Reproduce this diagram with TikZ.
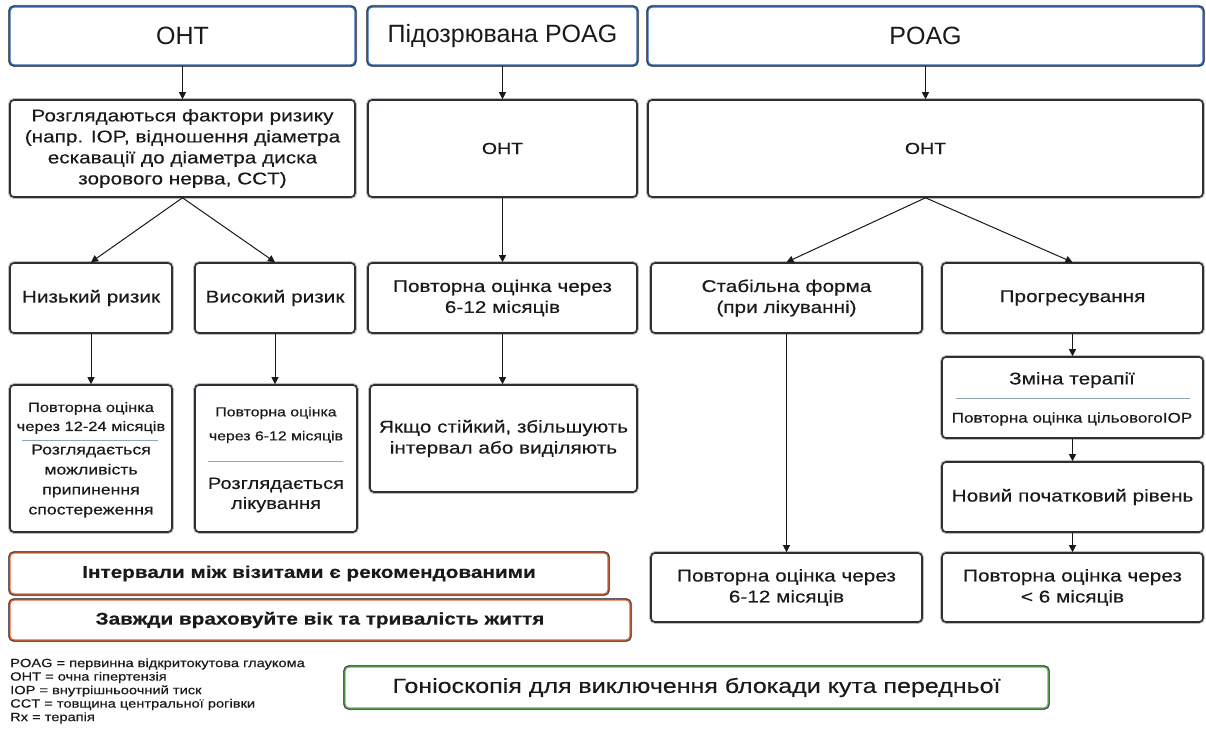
\documentclass[tikz,border=0pt]{standalone}
\usepackage{fontspec}
\setmainfont{Liberation Sans}[FakeStretch=1.22,FakeBold=0.35]
\newfontfamily\topfont{Liberation Sans}
\usetikzlibrary{arrows.meta}
\definecolor{boxline}{HTML}{2A3036}
\definecolor{topblue}{HTML}{2E6DB8}
\definecolor{orangeline}{HTML}{EC6430}
\definecolor{greenline}{HTML}{62C04A}
\definecolor{divline}{HTML}{8FA6B6}
\definecolor{txt}{HTML}{1A1A1A}
\newcommand\fs[2]{\fontsize{#1}{#2}\selectfont}
\newcommand\mybox[7]{\node[#1, minimum width={#5-#3}, minimum height={#6-#4}] (#2) at ({(#3+#5)/2},{(#4+#6)/2}) {#7};}
\tikzset{
  base/.style={rounded corners=4pt, fill=white, inner sep=0pt, align=center, text=txt},
  box/.style={base, preaction={draw=black!25, line width=3.8pt}, draw=boxline, line width=1.6pt, font=\fs{17}{21}},
  colbox/.style={base, preaction={draw=black!25, line width=4pt}, preaction={draw=boxline, line width=3.2pt}, line width=1.4pt},
  topbox/.style={colbox, draw=topblue, font=\topfont\fs{25}{28}},
  orbox/.style={colbox, draw=orangeline, font=\bfseries\fs{17}{20}},
  grbox/.style={colbox, draw=greenline, font=\fs{20.5}{22}},
  arr/.style={draw=black!90, line width=1pt, -{Triangle[length=7pt,width=7pt]}},
  div/.style={draw=divline, line width=0.7pt},
  tnode/.style={inner sep=0pt, align=center, text=txt},
  legend/.style={inner sep=0pt, anchor=west, text=txt, font=\fs{12}{13.5}}
}
\begin{document}
\begin{tikzpicture}[x=1pt,y=-1pt]
\useasboundingbox[fill=white] (0,0) rectangle (1206,751);
% top row
\mybox{topbox}{t1}{10}{7}{355}{65}{OHT}
\mybox{topbox}{t2}{368}{7}{637}{65}{Підозрювана POAG}
\mybox{topbox}{t3}{648}{7}{1203}{65}{POAG}
% row 2
\mybox{box}{r1}{10}{100}{355}{197}{Розглядаються фактори ризику\\(напр. IOP, відношення діаметра\\ескавації до діаметра диска\\зорового нерва, CCT)}
\mybox{box,font=\fs{16}{18}}{r2}{368}{100}{637}{197}{OHT}
\mybox{box,font=\fs{16}{18}}{r3}{648}{100}{1203}{197}{OHT}
% row 3
\mybox{box}{lo}{10}{263}{172}{333}{Низький ризик}
\mybox{box}{hi}{195}{263}{355}{333}{Високий ризик}
\mybox{box}{b3}{368}{263}{637}{333}{Повторна оцінка через\\6-12 місяців}
\mybox{box}{st}{651}{263}{922}{333}{Стабільна форма\\(при лікуванні)}
\mybox{box}{pr}{942}{263}{1203}{333}{Прогресування}
% row 4
\mybox{box}{a4a}{10}{385}{172}{532}{}
\mybox{box}{a4b}{195}{385}{357}{532}{}
\mybox{box}{b4}{370}{385}{637}{492}{Якщо стійкий, збільшують\\інтервал або виділяють}
\mybox{box}{ch}{942}{357}{1203}{438}{}
\mybox{box}{nb}{942}{462}{1203}{532}{Новий початковий рівень}
% row 5
\mybox{box}{s5}{651}{553}{922}{622}{Повторна оцінка через\\6-12 місяців}
\mybox{box}{p5}{942}{553}{1203}{622}{Повторна оцінка через\\< 6 місяців}
% inner texts
\node[tnode, font=\fs{13.5}{19}] (a4a1) at (91,418) {Повторна оцінка\\через 12-24 місяців};
\draw[div] (22,440) -- (158,440);
\node[tnode, font=\fs{14.5}{20}] (a4a2) at (91,481) {Розглядається\\можливість\\припинення\\спостереження};
\node[tnode, font=\fs{13}{24}] (a4b1) at (276,425) {Повторна оцінка\\через 6-12 місяців};
\draw[div] (208,461) -- (343,461);
\node[tnode, font=\fs{16.5}{20}] (a4b2) at (276,495) {Розглядається\\лікування};
\node[tnode, font=\fs{17}{21}] (ch1) at (1072,380) {Зміна терапії};
\draw[div] (956,398) -- (1190,398);
\node[tnode, font=\fs{14}{17}] (ch2) at (1072,419) {Повторна оцінка цільовогоIOP};
% arrows
\draw[arr] (t1) -- (r1);
\draw[arr] (t2) -- (r2);
\draw[arr] (t3.south) -- (r3.north);
\draw[arr] (r1.south) -- (lo.north);
\draw[arr] (r1.south) -- (hi.north);
\draw[arr] (r2) -- (b3);
\draw[arr] (r3.south) -- (st.north);
\draw[arr] (r3.south) -- (pr.north);
\draw[arr] (lo) -- (lo.south |- a4a.north);
\draw[arr] (hi) -- (hi.south |- a4b.north);
\draw[arr] (b3.south) -- (b3.south |- b4.north);
\draw[arr] (st) -- (s5);
\draw[arr] (pr) -- (ch);
\draw[arr] (ch) -- (nb);
\draw[arr] (nb) -- (p5);
% notes
\mybox{orbox}{o1}{10}{553}{608}{594}{Інтервали між візитами є рекомендованими}
\mybox{orbox}{o2}{10}{600}{630}{640}{Завжди враховуйте вік та тривалість життя}
\mybox{grbox}{g}{345}{667}{1048}{708}{Гоніоскопія для виключення блокади кута передньої}
% legend
\node[legend] (l1) at (10,664) {POAG = первинна відкритокутова глаукома};
\node[legend] (l2) at (10,677.5) {OHT = очна гіпертензія};
\node[legend] (l3) at (10,691) {IOP = внутрішньоочний тиск};
\node[legend] (l4) at (10,704.5) {CCT = товщина центральної рогівки};
\node[legend] (l5) at (10,718) {Rx = терапія};
\end{tikzpicture}
\end{document}
